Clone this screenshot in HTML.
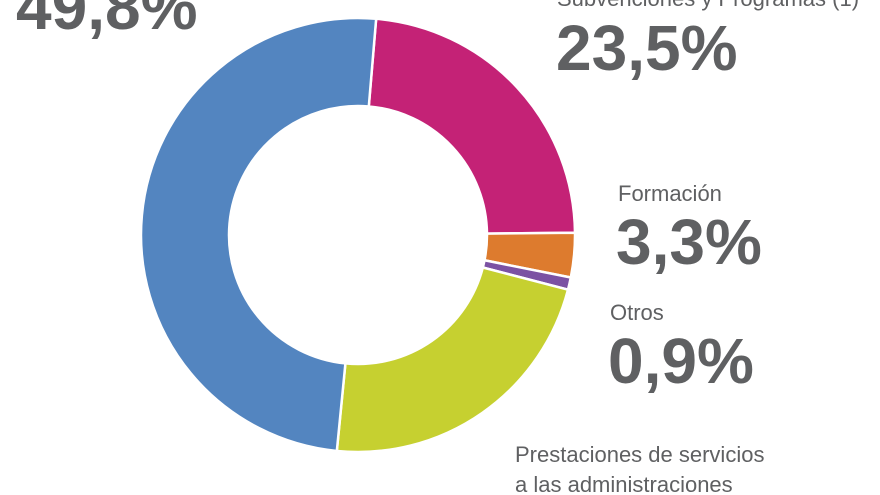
<!DOCTYPE html>
<html><head><meta charset="utf-8"><style>
html,body{margin:0;padding:0;background:#fff;}
svg{display:block;}
text{font-family:"Liberation Sans",sans-serif;fill:#5f6062;}
.big{font-weight:bold;font-size:64px;}
.lab{font-size:22px;}
</style></head><body>
<svg width="880" height="495" viewBox="0 0 880 495" xmlns="http://www.w3.org/2000/svg">
<g id="d" stroke="#fff" stroke-width="2.5"></g>
<text class="big" x="16" y="29">49,8%</text>
<text class="lab" x="557" y="6">Subvenciones y Programas (1)</text>
<text class="big" x="556" y="70">23,5%</text>
<text class="lab" x="618" y="201">Formación</text>
<text class="big" x="616" y="264">3,3%</text>
<text class="lab" x="610" y="320">Otros</text>
<text class="big" x="608" y="383">0,9%</text>
<text class="lab" x="515" y="462">Prestaciones de servicios</text>
<text class="lab" x="515" y="492">a las administraciones</text>
</svg>
<script>
var cx=358,cy=235,R=217,r=129;
var segs=[[4.8,89.4,"#c42276"],[89.4,101.3,"#dd7b2e"],[101.3,104.6,"#7b52a3"],[104.6,185.6,"#c6d030"],[185.6,364.8,"#5385c0"]];
function pt(a,rad){a=(a-90)*Math.PI/180;return [cx+rad*Math.cos(a),cy+rad*Math.sin(a)];}
var g=document.getElementById("d"),h="";
segs.forEach(function(s){var a=s[0],b=s[1],l=(b-a)>180?1:0;
var p1=pt(a,R),p2=pt(b,R),p3=pt(b,r),p4=pt(a,r);
h+='<path fill="'+s[2]+'" d="M'+p1+' A'+R+' '+R+' 0 '+l+' 1 '+p2+' L'+p3+' A'+r+' '+r+' 0 '+l+' 0 '+p4+' Z"/>';});
g.innerHTML=h;
</script>
</body></html>
